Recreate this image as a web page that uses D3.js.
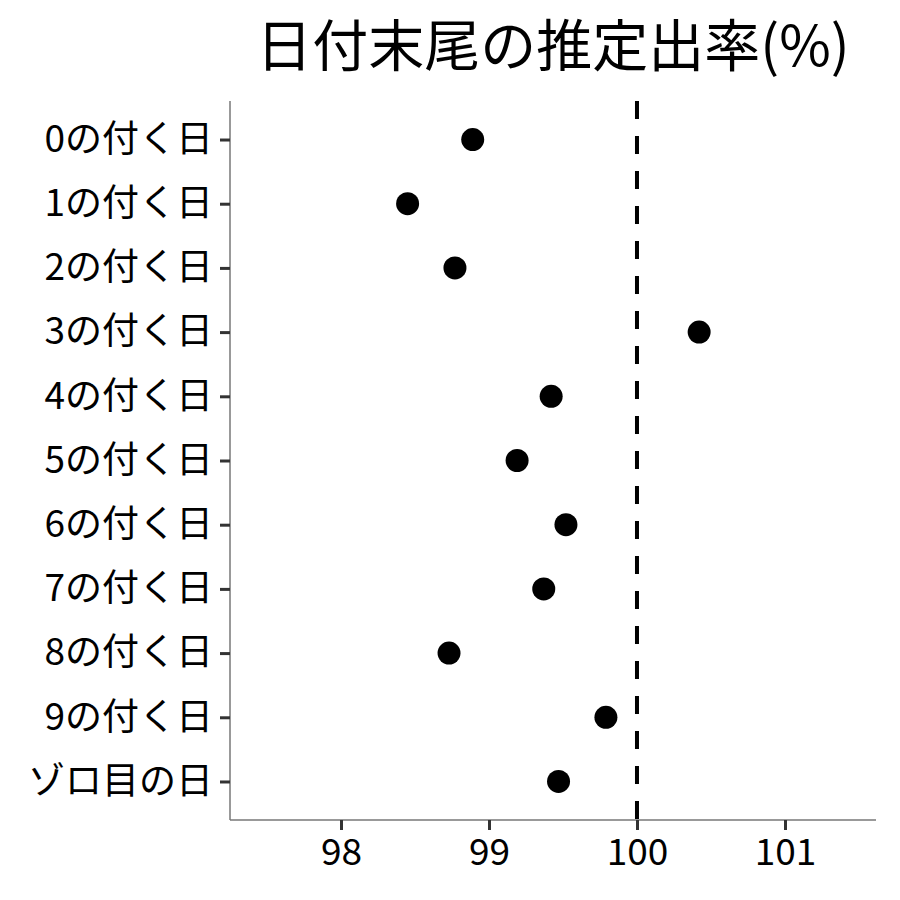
<!DOCTYPE html>
<html><head><meta charset="utf-8">
<script src="https://cdn.jsdelivr.net/npm/d3@7"></script>
<style>body{margin:0;background:#fff}</style>
</head><body>
<svg id="c" width="900" height="900"></svg>
<script>
const categories = ["0の付く日","1の付く日","2の付く日","3の付く日","4の付く日","5の付く日","6の付く日","7の付く日","8の付く日","9の付く日","ゾロ目の日"];
const values = [98.89, 98.45, 98.77, 100.42, 99.42, 99.19, 99.52, 99.37, 98.73, 99.79, 99.47];
const xTicks = [98, 99, 100, 101];
const refValue = 100;
const title = "日付末尾の推定出率(%)";

const font = "'Noto Sans CJK JP','Noto Sans',sans-serif";
const svg = d3.select("#c");
const L = 230, R = 876, T = 101, B = 820;
const x = d3.scaleLinear().domain([97.25, 101.615]).range([L, R]);
const y = d3.scalePoint().domain(categories).range([T, B]).padding(0.6);

// axes
const xa = svg.append("g").attr("transform", `translate(0,${B})`)
  .call(d3.axisBottom(x).tickValues(xTicks).tickSize(10).tickPadding(9).tickFormat(d3.format("d")));
const ya = svg.append("g").attr("transform", `translate(${L},0)`)
  .call(d3.axisLeft(y).tickSize(10).tickPadding(7));
[xa, ya].forEach(a => {
  a.select(".domain").attr("stroke", "#777").attr("stroke-width", 1.5);
  a.selectAll(".tick line").attr("stroke", "#333").attr("stroke-width", 3);
  a.selectAll(".tick text").attr("fill", "#000").style("font-family", font).style("font-size", "37px");
});
xa.select(".domain").attr("d", `M${L},0H${R}`);
ya.select(".domain").attr("d", `M0,${T}V${B}`);

// reference line
svg.append("line").attr("x1", x(refValue)).attr("x2", x(refValue)).attr("y1", T).attr("y2", B)
  .attr("stroke", "#000").attr("stroke-width", 4).attr("stroke-dasharray", "18,17");

// points
svg.append("g").selectAll("circle").data(categories).join("circle")
  .attr("cx", (d, i) => x(values[i])).attr("cy", d => y(d)).attr("r", 11.5).attr("fill", "#000");

// title
svg.append("text").attr("x", (L + R) / 2).attr("y", 66).attr("text-anchor", "middle")
  .style("font-family", font).style("font-size", "56px").attr("fill", "#000").text(title);
</script>
</body></html>
